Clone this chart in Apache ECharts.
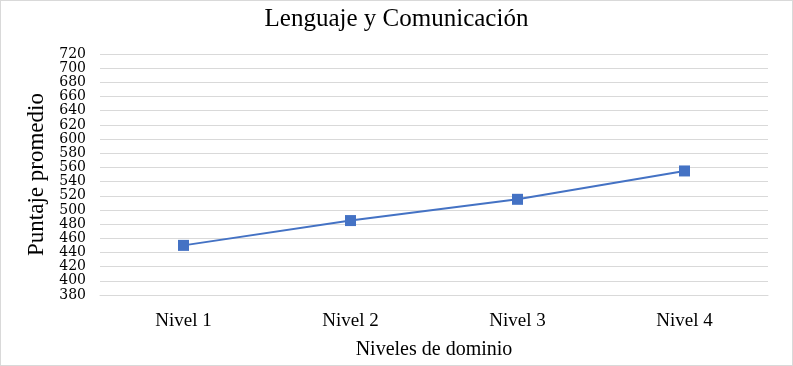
<!DOCTYPE html>
<html>
<head>
<meta charset="utf-8">
<script src="https://cdn.jsdelivr.net/npm/echarts@6/dist/echarts.min.js"></script>
<style>
html,body{margin:0;padding:0;background:#fff;}
#c{width:791px;height:364px;border:1px solid #d9d9d9;}
</style>
</head>
<body>
<div id="c"></div>
<script>
const categories = ['Nivel 1', 'Nivel 2', 'Nivel 3', 'Nivel 4'];
const values = [450, 485, 515, 555];
const yMin = 380, yMax = 720, yStep = 20;
const titleText = 'Lenguaje y Comunicación';
const xName = 'Niveles de dominio';
const yName = 'Puntaje promedio';

const font = 'Liberation Serif, DejaVu Serif, serif';
const chart = echarts.init(document.getElementById('c'));
chart.setOption({
  animation: false,
  title: {
    text: titleText, left: 'center', top: 1,
    textStyle: {fontFamily: font, fontSize: 25, fontWeight: 'normal', color: '#000'}
  },
  grid: {left: 99, right: 24, top: 53, bottom: 68},
  xAxis: {
    type: 'category', data: categories, boundaryGap: true,
    name: xName, nameLocation: 'middle', nameGap: 45,
    nameTextStyle: {fontFamily: font, fontSize: 20, color: '#000'},
    axisLine: {lineStyle: {color: '#d9d9d9'}},
    axisTick: {show: false},
    axisLabel: {fontFamily: font, fontSize: 19, color: '#000', margin: 17}
  },
  yAxis: {
    type: 'value', min: yMin, max: yMax, interval: yStep,
    name: yName, nameLocation: 'middle', nameGap: 47,
    nameTextStyle: {fontFamily: font, fontSize: 23, color: '#000'},
    axisLine: {show: false}, axisTick: {show: false},
    axisLabel: {fontFamily: 'DejaVu Serif, serif', fontSize: 14, color: '#000', margin: 14,
      showMinLabel: true, showMaxLabel: true, hideOverlap: false},
    splitLine: {lineStyle: {color: '#d9d9d9', width: 1}}
  },
  series: [{
    type: 'line', data: values,
    symbol: 'rect', symbolSize: 11,
    lineStyle: {color: '#4472C4', width: 2},
    itemStyle: {color: '#4472C4'}
  }]
});
</script>
</body>
</html>
